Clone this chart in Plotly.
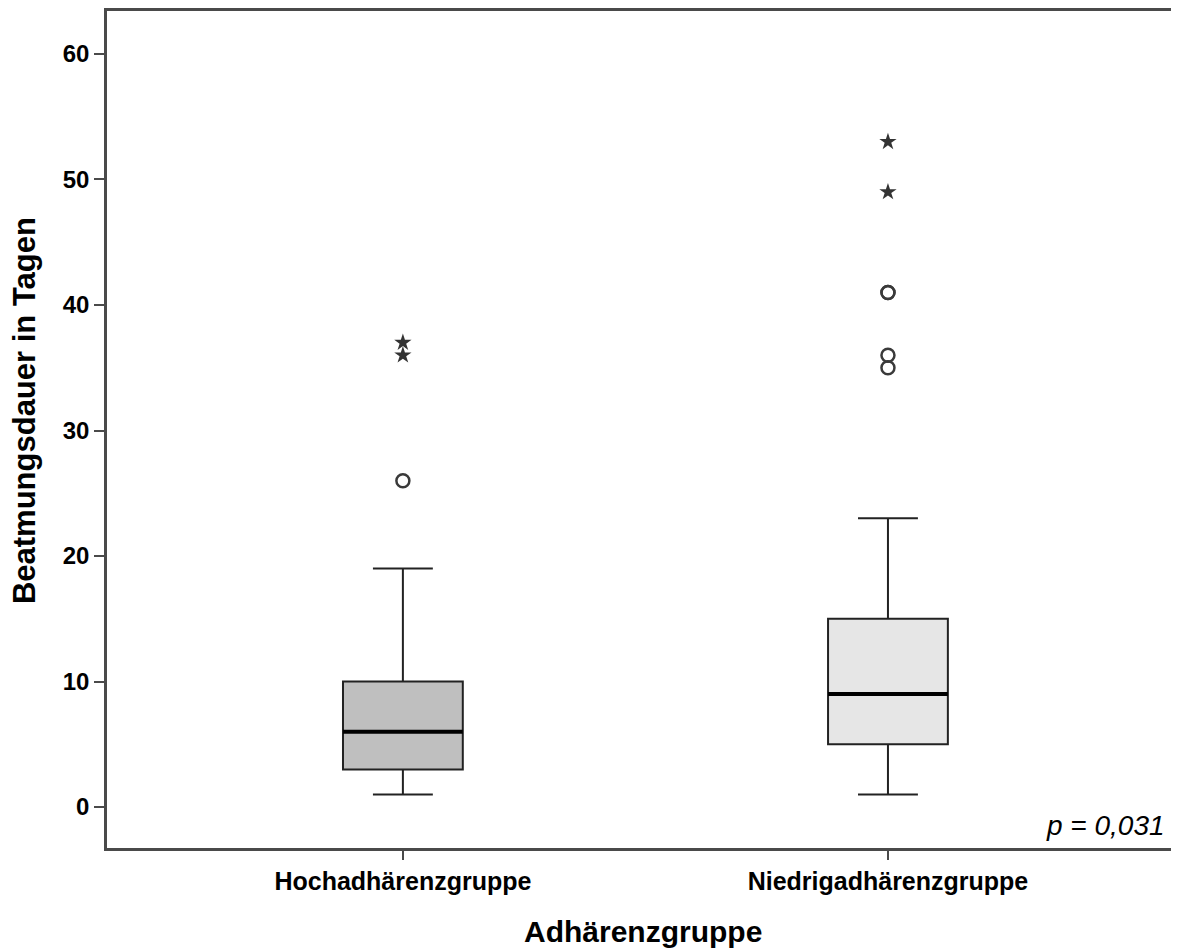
import plotly.graph_objects as go

categories = ["Hochadhärenzgruppe", "Niedrigadhärenzgruppe"]
lower_whisker = [1, 1]
q1 = [3, 5]
median = [6, 9]
q3 = [10, 15]
upper_whisker = [19, 23]
circle_outliers = [[26], [35, 36, 41, 41]]
star_outliers = [[36, 37], [49, 53]]
box_fill = ["#bfbfbf", "#e6e6e6"]
y_ticks = [0, 10, 20, 30, 40, 50, 60]
x_title = "Adhärenzgruppe"
y_title = "Beatmungsdauer in Tagen"
p_text = "p = 0,031"

FONT = "Arial, Liberation Sans, Helvetica, sans-serif"
BOX_W = 0.247

fig = go.Figure()
for i, cat in enumerate(categories):
    fig.add_trace(go.Box(
        x=[i], q1=[q1[i]], median=[median[i]], q3=[q3[i]],
        lowerfence=[lower_whisker[i]], upperfence=[upper_whisker[i]],
        width=BOX_W, whiskerwidth=0.5,
        fillcolor=box_fill[i],
        line=dict(color="#222222", width=2),
        boxpoints=False, showlegend=False, hoverinfo="skip",
    ))
    # thicker median line
    fig.add_trace(go.Scatter(
        x=[i - BOX_W / 2, i + BOX_W / 2], y=[median[i], median[i]],
        mode="lines", line=dict(color="#000000", width=4),
        showlegend=False, hoverinfo="skip",
    ))
    fig.add_trace(go.Scatter(
        x=[i] * len(circle_outliers[i]), y=circle_outliers[i], mode="markers",
        marker=dict(symbol="circle-open", size=13, color="#3a3a3a",
                    line=dict(width=2.5, color="#3a3a3a")),
        showlegend=False, hoverinfo="skip",
    ))
    fig.add_trace(go.Scatter(
        x=[i] * len(star_outliers[i]), y=star_outliers[i], mode="markers",
        marker=dict(symbol="star", size=13, color="#333333",
                    line=dict(width=0)),
        showlegend=False, hoverinfo="skip",
    ))

# page body has an 8px margin: compensate so the plot area lands at x 107..1179, y 9..848
fig.update_layout(
    width=1171, height=941,
    margin=dict(l=99, r=0, t=1, b=101),
    paper_bgcolor="white", plot_bgcolor="white",
    font=dict(family=FONT, color="#000000"),
    xaxis=dict(
        range=[-0.61, 1.60], tickvals=[0, 1], ticktext=categories,
        showgrid=False, zeroline=False,
        showline=True, linecolor="#4a4a4a", linewidth=2.5, mirror=True,
        ticks="outside", ticklen=9, tickwidth=1.5, tickcolor="#4a4a4a",
        tickfont=dict(size=25, family=FONT, weight="bold", color="#000"),
    ),
    yaxis=dict(
        range=[-3.26, 63.42], tickvals=y_ticks,
        showgrid=False, zeroline=False,
        showline=True, linecolor="#4a4a4a", linewidth=2.5,
        ticks="outside", ticklen=10, tickwidth=2, tickcolor="#4a4a4a",
        tickfont=dict(size=24, family=FONT, weight="bold", color="#000"),
    ),
    annotations=[
        dict(text=x_title, xref="paper", yref="paper", x=0.5, y=-0.1001,
             xanchor="center", yanchor="middle", showarrow=False,
             font=dict(size=30, family=FONT, weight="bold", color="#000")),
        dict(text=y_title, xref="paper", yref="paper", x=-0.0774, y=0.522,
             xanchor="center", yanchor="middle", showarrow=False, textangle=-90,
             font=dict(size=31, family=FONT, weight="bold", color="#000")),
        dict(text="<i>" + p_text + "</i>", xref="paper", yref="paper",
             x=0.989, y=0.027, xanchor="right", yanchor="middle", showarrow=False,
             font=dict(size=28, family=FONT, color="#000")),
    ],
)

fig.write_html("out.html")
